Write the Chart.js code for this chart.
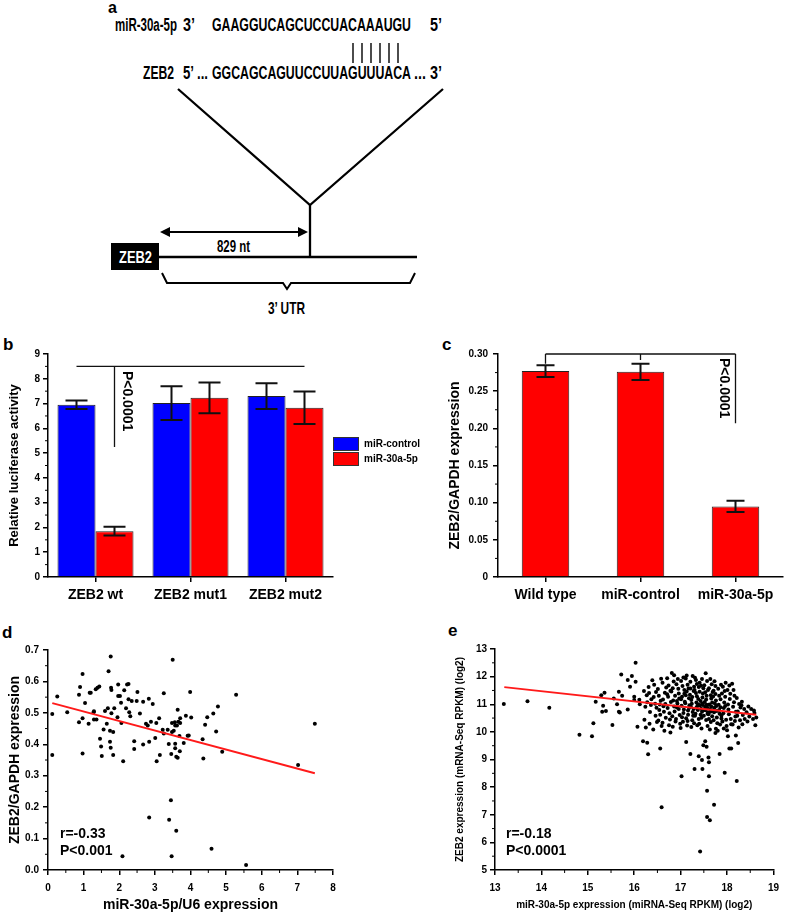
<!DOCTYPE html>
<html>
<head>
<meta charset="utf-8">
<script src="https://cdn.jsdelivr.net/npm/chart.js@4.4.1/dist/chart.umd.min.js"></script>
<style>
  body { margin: 0; background: #fff; }
  #page { position: relative; width: 786px; height: 913px; overflow: hidden; font-family: 'Liberation Sans', Arial, sans-serif; font-weight: bold; color: #000; }
  #page canvas { position: absolute; }
  .lbl { position: absolute; line-height: 1; white-space: nowrap; }
  .sw { position: absolute; width: 24px; height: 12px; border: 1px solid #333; }
</style>
</head>
<body>
<div id="page">
  <svg width="786" height="330" style="position:absolute;left:0;top:0" font-family="Liberation Sans, Arial, sans-serif" font-weight="bold">
    <text x="108" y="13" font-size="16">a</text>
    <text x="115" y="31" font-size="17.5" textLength="62" lengthAdjust="spacingAndGlyphs">miR-30a-5p</text>
    <text x="183" y="31" font-size="17.5" textLength="12" lengthAdjust="spacingAndGlyphs">3’</text>
    <text x="212" y="31" font-size="17.5" textLength="199" lengthAdjust="spacingAndGlyphs">GAAGGUCAGCUCCUACAAAUGU</text>
    <text x="430" y="31" font-size="17.5" textLength="12" lengthAdjust="spacingAndGlyphs">5’</text>
    <g stroke="#000" stroke-width="1.4">
      <line x1="353" y1="43" x2="353" y2="63"/><line x1="362" y1="43" x2="362" y2="63"/>
      <line x1="371" y1="43" x2="371" y2="63"/><line x1="380" y1="43" x2="380" y2="63"/>
      <line x1="389" y1="43" x2="389" y2="63"/><line x1="398" y1="43" x2="398" y2="63"/>
    </g>
    <text x="143" y="79" font-size="17.5" textLength="31" lengthAdjust="spacingAndGlyphs">ZEB2</text>
    <text x="183" y="79" font-size="17.5" textLength="25" lengthAdjust="spacingAndGlyphs">5’ ...</text>
    <text x="212" y="79" font-size="17.5" textLength="199" lengthAdjust="spacingAndGlyphs">GGCAGCAGUUCCUUAGUUUACA</text>
    <text x="414" y="79" font-size="17.5" textLength="28" lengthAdjust="spacingAndGlyphs">... 3’</text>
    <g stroke="#000" stroke-width="2.3" fill="none">
      <polyline points="178,89 310,205 443,89"/>
      <line x1="310" y1="205" x2="310" y2="257"/>
      <line x1="159" y1="257" x2="417" y2="257"/>
      <line x1="162" y1="232" x2="306" y2="232" stroke-width="2"/>
      <polyline points="162,273 167,283 283,283 287,289 291,283 410,283 415,273" stroke-width="2"/>
    </g>
    <polygon points="160,232 170,227 170,237" fill="#000"/>
    <polygon points="308,232 298,227 298,237" fill="#000"/>
    <text x="217" y="252" font-size="17" textLength="33" lengthAdjust="spacingAndGlyphs">829 nt</text>
    <rect x="111" y="243" width="48" height="27" fill="#000"/>
    <text x="119" y="263" font-size="17" fill="#fff" textLength="33" lengthAdjust="spacingAndGlyphs">ZEB2</text>
    <text x="268" y="314" font-size="17" textLength="37" lengthAdjust="spacingAndGlyphs">3’ UTR</text>
  </svg>

  <div class="lbl" style="left:3px;top:336px;font-size:17px">b</div>
  <div class="lbl" style="left:442px;top:336px;font-size:17px">c</div>
  <div class="lbl" style="left:2px;top:624px;font-size:17px">d</div>
  <div class="lbl" style="left:448px;top:622px;font-size:17px">e</div>

  <canvas id="chartB" width="340" height="275" style="left:0;top:340px"></canvas>
  <canvas id="chartC" width="386" height="275" style="left:400px;top:340px"></canvas>
  <canvas id="chartD" width="345" height="280" style="left:0;top:640px"></canvas>
  <canvas id="chartE" width="386" height="280" style="left:400px;top:640px"></canvas>

  <div class="sw" style="left:333px;top:437px;background:#0000ff"></div>
  <div class="sw" style="left:333px;top:452px;background:#ff0000"></div>
  <div class="lbl" style="left:364px;top:439px;font-size:10px">miR-control</div>
  <div class="lbl" style="left:364px;top:454px;font-size:10px">miR-30a-5p</div>

  <div class="lbl" style="left:60px;top:826px;font-size:14px">r=-0.33</div>
  <div class="lbl" style="left:60px;top:843px;font-size:14px">P&lt;0.001</div>
  <div class="lbl" style="left:506px;top:826px;font-size:14px">r=-0.18</div>
  <div class="lbl" style="left:506px;top:843px;font-size:14px">P&lt;0.0001</div>
</div>
<script>
// panel b - luciferase
const bGroups = ['ZEB2 wt', 'ZEB2 mut1', 'ZEB2 mut2']
const bControl = [6.95, 7.02, 7.30]
const bControlErr = [0.17, 0.68, 0.52]
const bMir = [1.85, 7.23, 6.83]
const bMirErr = [0.18, 0.62, 0.66]

// panel c - qPCR
const cGroups = ['Wild type', 'miR-control', 'miR-30a-5p']
const cValues = [0.277, 0.276, 0.095]
const cErr = [0.008, 0.011, 0.0075]

// panel d - miR-30a-5p/U6 vs ZEB2/GAPDH
const dPoints = [
  [0.12,0.496],[0.12,0.366],[0.26,0.552],[0.54,0.502],[0.97,0.624],[0.90,0.582],[0.87,0.558],[0.87,0.470],
  [0.97,0.483],[0.97,0.371],[1.04,0.531],[1.14,0.465],[1.17,0.564],[1.20,0.564],[1.28,0.502],[1.29,0.505],
  [1.29,0.479],[1.34,0.575],[1.36,0.479],[1.39,0.580],[1.44,0.584],[1.46,0.418],[1.49,0.393],[1.51,0.363],
  [1.56,0.447],[1.60,0.506],[1.65,0.465],[1.68,0.515],[1.70,0.632],[1.74,0.443],[1.74,0.408],[1.76,0.389],
  [1.76,0.679],[1.77,0.580],[1.78,0.573],[1.78,0.499],[1.83,0.439],[1.83,0.366],[1.86,0.515],[1.95,0.486],
  [1.97,0.590],[1.97,0.554],[2.02,0.554],[2.05,0.532],[2.06,0.468],[2.09,0.044],[2.11,0.346],[2.14,0.572],
  [2.19,0.515],[2.22,0.590],[2.26,0.592],[2.26,0.543],[2.28,0.502],[2.31,0.489],[2.35,0.538],[2.42,0.410],
  [2.42,0.385],[2.49,0.538],[2.51,0.566],[2.58,0.498],[2.67,0.535],[2.67,0.399],[2.75,0.465],[2.80,0.460],
  [2.83,0.545],[2.84,0.408],[2.84,0.167],[2.89,0.472],[2.94,0.528],[3.01,0.420],[3.04,0.468],[3.05,0.346],
  [3.12,0.483],[3.14,0.366],[3.25,0.562],[3.22,0.446],[3.25,0.434],[3.36,0.446],[3.39,0.401],[3.40,0.160],
  [3.45,0.222],[3.46,0.369],[3.47,0.044],[3.48,0.439],[3.48,0.468],[3.50,0.669],[3.53,0.443],[3.56,0.470],
  [3.57,0.402],[3.57,0.387],[3.57,0.460],[3.60,0.125],[3.60,0.360],[3.62,0.460],[3.64,0.510],[3.64,0.357],
  [3.66,0.472],[3.69,0.426],[3.70,0.378],[3.71,0.468],[3.71,0.483],[3.81,0.404],[3.87,0.491],[3.92,0.427],
  [3.95,0.428],[3.99,0.566],[4.02,0.485],[4.34,0.416],[4.36,0.355],[4.41,0.462],[4.47,0.486],[4.59,0.068],
  [4.64,0.498],[4.72,0.441],[4.77,0.520],[4.89,0.376],[5.28,0.558],[5.56,0.016],[7.02,0.334],[7.49,0.465]
]
const dFit = [[0.12, 0.531], [7.49, 0.308]]

// panel e - TCGA miRNA-Seq vs mRNA-Seq
const ePoints = [
  // sparse left tail and low outliers
  [13.19,11.01],[13.70,11.11],[14.17,10.87],[14.82,9.90],[15.09,9.84],[15.12,10.31],[15.17,11.09],[15.29,11.33],
  [15.31,10.73],[15.36,11.42],[15.39,10.76],[15.33,10.95],[15.53,10.25],[15.56,11.21],[15.63,11.00],[15.67,10.73],
  [15.67,11.45],[15.69,10.70],[15.72,12.08],[15.74,11.31],[15.86,11.88],[15.86,10.81],[15.91,11.63],[15.95,12.02],
  [16.00,11.27],[16.00,11.15],[16.03,12.50],[16.03,11.81],[16.07,10.19],[16.11,11.16],[16.12,11.00],
  [16.19,9.66],[16.28,9.61],[16.30,9.19],[16.56,9.40],[16.59,7.27],[17.02,8.39],[17.12,9.63],[17.21,9.20],
  [17.30,8.66],[17.39,9.12],[17.42,5.67],[17.46,8.98],[17.47,8.66],[17.49,9.52],[17.53,9.66],[17.56,9.46],
  [17.57,7.87],[17.57,6.92],[17.60,9.07],[17.61,8.90],[17.61,8.39],[17.63,6.80],[17.72,7.36],[17.75,9.96],
  [17.84,9.20],[17.95,8.52],[18.02,9.84],[18.05,9.40],[18.09,9.40],[18.19,9.87],[18.21,8.22],[18.24,9.60],
  // main cloud
  [16.21,11.48],[16.24,10.91],[16.27,11.33],[16.22,10.44],[16.28,11.07],[16.25,10.16],
  [16.31,11.62],[16.34,10.72],[16.37,11.18],[16.33,10.29],[16.39,11.87],[16.36,10.97],[16.32,11.41],
  [16.42,11.26],[16.46,10.58],[16.43,11.71],[16.48,10.87],[16.41,10.09],[16.47,11.44],[16.45,11.02],[16.49,10.36],
  [16.51,11.55],[16.54,10.79],[16.57,11.13],[16.52,10.41],[16.58,11.92],[16.55,10.99],[16.59,10.21],[16.53,11.31],[16.56,10.62],
  [16.61,11.78],[16.63,10.93],[16.66,11.42],[16.68,10.51],[16.62,11.17],[16.65,10.04],[16.69,11.61],[16.64,10.73],[16.67,11.01],[16.61,10.33],
  [16.71,11.94],[16.73,11.27],[16.76,10.67],[16.78,11.49],[16.72,10.86],[16.75,10.24],[16.79,11.08],[16.74,11.68],[16.77,10.45],[16.71,11.36],[16.78,9.98],
  [16.81,12.13],[16.83,11.58],[16.86,10.92],[16.88,11.31],[16.82,10.57],[16.85,11.82],[16.89,10.38],[16.84,11.14],[16.87,10.74],[16.80,11.46],[16.86,12.05],[16.83,10.19],
  [16.91,11.72],[16.93,11.03],[16.96,11.39],[16.98,10.61],[16.92,10.88],[16.95,11.56],[16.99,10.29],[16.94,11.91],[16.97,11.21],[16.90,10.47],[16.96,10.83],[16.92,11.12],
  [17.01,11.84],[17.03,11.27],[17.06,10.68],[17.08,11.52],[17.02,10.95],[17.05,10.37],[17.09,11.09],[17.04,11.66],[17.07,10.81],[17.00,10.14],[17.06,11.97],[17.03,10.53],[17.08,11.38],[17.01,11.18],
  [17.11,11.93],[17.13,11.46],[17.16,10.77],[17.18,11.22],[17.12,10.49],[17.15,11.71],[17.19,10.96],[17.14,10.23],[17.17,11.57],[17.10,11.04],[17.16,10.62],[17.13,12.04],[17.18,10.86],[17.11,11.33],[17.15,10.39],
  [17.21,11.81],[17.23,11.15],[17.26,10.72],[17.28,11.48],[17.22,10.91],[17.25,10.42],[17.29,11.63],[17.24,11.02],[17.27,10.58],[17.20,11.34],[17.26,12.02],[17.23,10.18],[17.28,10.83],[17.21,11.57],[17.25,11.26],[17.29,10.31],
  [17.31,11.96],[17.33,11.41],[17.36,10.94],[17.38,11.19],[17.32,10.66],[17.35,11.73],[17.39,10.47],[17.34,11.06],[17.37,10.79],[17.30,11.52],[17.36,10.24],[17.33,11.88],[17.38,10.99],[17.31,10.58],[17.35,11.29],[17.39,11.62],[17.34,10.87],
  [17.41,11.78],[17.43,11.12],[17.46,10.73],[17.48,11.39],[17.42,10.96],[17.45,10.51],[17.49,11.58],[17.44,10.84],[17.47,11.24],[17.40,10.29],[17.46,11.91],[17.43,10.62],[17.48,10.97],[17.41,11.45],[17.45,10.12],[17.49,10.78],[17.44,11.67],[17.47,11.03],
  [17.51,11.69],[17.53,10.91],[17.56,11.31],[17.58,10.66],[17.52,11.08],[17.55,10.43],[17.59,11.52],[17.54,10.78],[17.57,11.84],[17.50,10.58],[17.56,10.98],[17.53,11.43],[17.58,10.21],[17.51,10.82],[17.55,11.17],[17.59,10.69],[17.54,12.12],[17.57,10.89],
  [17.61,11.58],[17.63,10.82],[17.66,11.21],[17.68,10.57],[17.62,10.99],[17.65,10.36],[17.69,11.44],[17.64,10.73],[17.67,11.72],[17.60,10.64],[17.66,10.92],[17.63,10.09],[17.68,11.06],[17.61,10.47],[17.65,11.33],[17.69,10.78],[17.64,11.91],
  [17.71,11.49],[17.73,10.87],[17.76,11.14],[17.78,10.52],[17.72,10.71],[17.75,11.66],[17.79,10.31],[17.74,11.02],[17.77,10.94],[17.70,11.28],[17.76,10.11],[17.73,11.83],[17.78,10.76],[17.71,10.42],[17.75,11.37],
  [17.81,11.56],[17.83,10.79],[17.86,11.18],[17.88,10.48],[17.82,10.98],[17.85,10.27],[17.89,11.39],[17.84,10.66],[17.87,11.71],[17.80,10.04],[17.86,10.89],[17.83,11.31],[17.88,10.59],
  [17.91,11.63],[17.93,10.86],[17.96,11.27],[17.98,10.44],[17.92,10.67],[17.95,11.48],[17.99,10.21],[17.94,11.06],[17.97,11.78],[17.90,10.38],[17.96,10.94],[17.93,10.12],
  [18.01,11.52],[18.03,10.81],[18.06,11.19],[18.08,10.47],[18.02,10.99],[18.05,11.68],[18.09,10.28],[18.04,10.64],[18.07,11.38],[18.00,10.06],
  [18.11,11.74],[18.13,10.91],[18.16,11.31],[18.18,10.56],[18.12,10.27],[18.15,11.07],[18.19,10.73],[18.14,11.52],[18.17,10.39],
  [18.21,11.23],[18.23,10.74],[18.26,11.01],[18.28,10.42],[18.22,10.58],[18.25,10.16],[18.29,10.88],
  [18.31,10.96],[18.34,10.61],[18.37,10.83],[18.33,10.28],[18.38,10.47],[18.32,11.09],
  [18.42,10.71],[18.46,10.92],[18.44,10.38],[18.48,10.56],
  [18.52,10.83],[18.56,10.47],[18.59,10.68],[18.61,10.24],[18.58,10.77],[18.63,10.52]
]
const eFit = [[13.2, 11.62], [18.63, 10.62]]

Chart.defaults.font.family = "'Liberation Sans', Arial, sans-serif"
Chart.defaults.font.weight = 'bold'
Chart.defaults.color = '#000'
Chart.defaults.animation = false
Chart.defaults.responsive = false
Chart.defaults.devicePixelRatio = 1
Chart.defaults.plugins.legend.display = false
Chart.defaults.plugins.tooltip.enabled = false

// short unlabelled ticks halfway between the labelled ones
Chart.register({
  id: 'minorTicks',
  afterDraw(chart) {
    const ctx = chart.ctx
    ctx.save()
    ctx.strokeStyle = '#000'
    ctx.lineWidth = 1
    Object.values(chart.scales).forEach(scale => {
      if (scale.type !== 'linear') return
      const ticks = scale.ticks
      for (let i = 0; i < ticks.length - 1; i++) {
        const p = scale.getPixelForValue((ticks[i].value + ticks[i + 1].value) / 2)
        ctx.beginPath()
        if (scale.isHorizontal()) { ctx.moveTo(p, scale.top); ctx.lineTo(p, scale.top + 3) }
        else { ctx.moveTo(scale.right, p); ctx.lineTo(scale.right - 3, p) }
        ctx.stroke()
      }
    })
    ctx.restore()
  }
})

const errorBars = {
  id: 'errorBars',
  afterDatasetsDraw(chart) {
    const ctx = chart.ctx
    const y = chart.scales.y
    ctx.save()
    ctx.strokeStyle = '#111'
    ctx.lineWidth = 2
    chart.data.datasets.forEach((ds, i) => {
      if (!ds.errors) return
      chart.getDatasetMeta(i).data.forEach((bar, j) => {
        const top = y.getPixelForValue(ds.data[j] + ds.errors[j])
        const bot = y.getPixelForValue(ds.data[j] - ds.errors[j])
        ctx.beginPath()
        ctx.moveTo(bar.x, top); ctx.lineTo(bar.x, bot)
        ctx.moveTo(bar.x - ds.cap, top); ctx.lineTo(bar.x + ds.cap, top)
        ctx.moveTo(bar.x - ds.cap, bot); ctx.lineTo(bar.x + ds.cap, bot)
        ctx.stroke()
      })
    })
    ctx.restore()
  }
}

function rotatedText(ctx, text, x, y) {
  ctx.save()
  ctx.translate(x, y)
  ctx.rotate(Math.PI / 2)
  ctx.font = "bold 14px 'Liberation Sans', Arial, sans-serif"
  ctx.fillStyle = '#000'
  ctx.textAlign = 'center'
  ctx.textBaseline = 'middle'
  ctx.fillText(text, 0, 0)
  ctx.restore()
}

function axisBox(w, h) {
  return s => { if (w) s.width = w; if (h) s.height = h }
}

function linAxis(extra) {
  return Object.assign({
    type: 'linear',
    grid: { drawOnChartArea: false, tickLength: 5, color: '#000', lineWidth: 1.5 },
    border: { color: '#000', width: 1.5 }
  }, extra)
}

new Chart(document.getElementById('chartB'), {
  type: 'bar',
  data: {
    labels: bGroups,
    datasets: [
      { data: bControl, errors: bControlErr, cap: 11, backgroundColor: '#0000ff', borderColor: '#222', borderWidth: 1 },
      { data: bMir, errors: bMirErr, cap: 11, backgroundColor: '#ff0000', borderColor: '#222', borderWidth: 1 }
    ]
  },
  options: {
    layout: { padding: { left: 0, top: 14, right: 7, bottom: 0 } },
    datasets: { bar: { categoryPercentage: 0.8, barPercentage: 1 } },
    scales: {
      x: {
        grid: { offset: false, drawOnChartArea: false, tickLength: 5, color: '#000', lineWidth: 1.5 },
        border: { color: '#000', width: 1.5 },
        ticks: { font: { size: 14 }, padding: 5, maxRotation: 0 },
        afterFit: axisBox(0, 38)
      },
      y: linAxis({
        min: 0, max: 9,
        ticks: { stepSize: 1, font: { size: 10 }, padding: 3 },
        title: { display: true, text: 'Relative luciferase activity', font: { size: 13 }, padding: { top: 7, bottom: 0 } },
        afterFit: axisBox(48, 0)
      })
    }
  },
  plugins: [errorBars, {
    id: 'sigB',
    afterDatasetsDraw(chart) {
      const ctx = chart.ctx
      const y = chart.scales.y
      const c = chart.getDatasetMeta(0).data
      const m = chart.getDatasetMeta(1).data
      const yTop = y.getPixelForValue(8.5)
      ctx.save()
      ctx.strokeStyle = '#111'
      ctx.lineWidth = 1.3
      ctx.beginPath()
      ctx.moveTo(c[0].x, yTop); ctx.lineTo(m[2].x, yTop)
      ctx.moveTo(m[0].x, yTop); ctx.lineTo(m[0].x, y.getPixelForValue(5.25))
      ctx.stroke()
      ctx.restore()
      rotatedText(ctx, 'P<0.0001', m[0].x + 12, y.getPixelForValue(7.1))
    }
  }]
})

new Chart(document.getElementById('chartC'), {
  type: 'bar',
  data: {
    labels: cGroups,
    datasets: [
      { data: cValues, errors: cErr, cap: 9, backgroundColor: '#ff0000', borderColor: '#222', borderWidth: 1 }
    ]
  },
  options: {
    layout: { padding: { left: 45, top: 14, right: 3, bottom: 0 } },
    datasets: { bar: { categoryPercentage: 1, barPercentage: 0.5 } },
    scales: {
      x: {
        grid: { offset: false, drawOnChartArea: false, tickLength: 5, color: '#000', lineWidth: 1.5 },
        border: { color: '#000', width: 1.5 },
        ticks: { font: { size: 14 }, padding: 5, maxRotation: 0 },
        afterFit: axisBox(0, 38)
      },
      y: linAxis({
        min: 0, max: 0.3,
        ticks: { stepSize: 0.05, font: { size: 10 }, padding: 5, callback: v => v === 0 ? '0' : v.toFixed(2) },
        title: { display: true, text: 'ZEB2/GAPDH expression', font: { size: 14 }, padding: { top: 2, bottom: 0 } },
        afterFit: axisBox(53, 0)
      })
    }
  },
  plugins: [errorBars, {
    id: 'sigC',
    afterDatasetsDraw(chart) {
      const ctx = chart.ctx
      const y = chart.scales.y
      const b = chart.getDatasetMeta(0).data
      const yTop = y.getPixelForValue(0.3)
      ctx.save()
      ctx.strokeStyle = '#111'
      ctx.lineWidth = 1.3
      ctx.beginPath()
      ctx.moveTo(b[0].x, yTop); ctx.lineTo(b[2].x, yTop)
      ctx.moveTo(b[0].x, yTop); ctx.lineTo(b[0].x, y.getPixelForValue(0.287))
      ctx.moveTo(b[1].x, yTop); ctx.lineTo(b[1].x, y.getPixelForValue(0.292))
      ctx.moveTo(b[2].x, yTop); ctx.lineTo(b[2].x, y.getPixelForValue(0.207))
      ctx.stroke()
      ctx.restore()
      rotatedText(ctx, 'P<0.0001', b[2].x - 12, y.getPixelForValue(0.254))
    }
  }]
})

function scatterChart(id, points, fit, opts) {
  return new Chart(document.getElementById(id), {
    type: 'scatter',
    data: {
      datasets: [
        { data: fit.map(p => ({ x: p[0], y: p[1] })), showLine: true, borderColor: '#ff1a1a', borderWidth: 2, pointRadius: 0 },
        { data: points.map(p => ({ x: p[0], y: p[1] })), backgroundColor: '#000', borderWidth: 0, pointRadius: 2 }
      ]
    },
    options: {
      layout: { padding: opts.padding },
      scales: {
        x: linAxis({
          min: opts.xMin, max: opts.xMax,
          ticks: { stepSize: 1, font: { size: 10 }, padding: 7 },
          title: { display: true, text: opts.xTitle, font: { size: opts.xTitleSize }, padding: 0 },
          afterFit: axisBox(0, opts.xHeight)
        }),
        y: linAxis({
          min: opts.yMin, max: opts.yMax,
          ticks: { stepSize: opts.yStep, font: { size: 10 }, padding: opts.yPad, callback: opts.yFmt },
          title: { display: true, text: opts.yTitle, font: { size: opts.yTitleSize }, padding: { top: opts.yTitlePad, bottom: 0 } },
          afterFit: axisBox(opts.yWidth, 0)
        })
      }
    }
  })
}

scatterChart('chartD', dPoints, dFit, {
  padding: { left: 0, top: 7, right: 12, bottom: 6 },
  xMin: 0, xMax: 8, xTitle: 'miR-30a-5p/U6 expression', xTitleSize: 14, xHeight: 44,
  yMin: 0, yMax: 0.7, yStep: 0.1, yFmt: v => v.toFixed(1), yPad: 4,
  yTitle: 'ZEB2/GAPDH expression', yTitleSize: 14, yTitlePad: 7, yWidth: 48
})

scatterChart('chartE', ePoints, eFit, {
  padding: { left: 54, top: 7, right: 6, bottom: 9 },
  xMin: 13, xMax: 19, xTitle: 'miR-30a-5p expression (miRNA-Seq RPKM) (log2)', xTitleSize: 10, xHeight: 41,
  yMin: 5, yMax: 13, yStep: 1, yFmt: v => v, yPad: 3,
  yTitle: 'ZEB2 expression (mRNA-Seq RPKM) (log2)', yTitleSize: 10, yTitlePad: 0, yWidth: 41
})
</script>
</body>
</html>
